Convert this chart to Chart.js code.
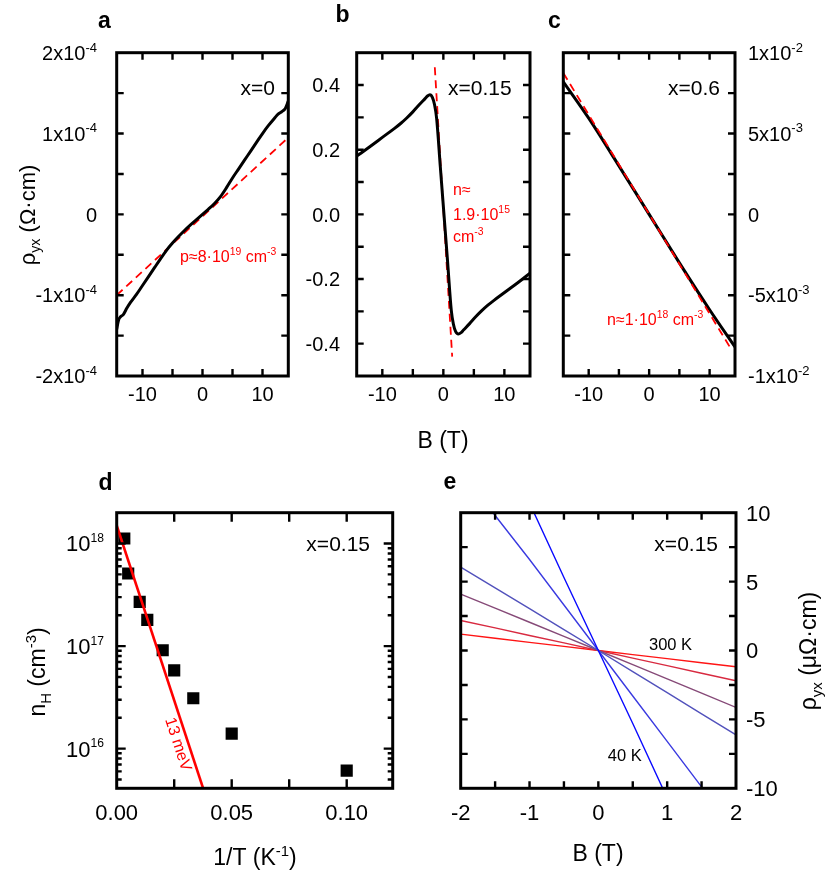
<!DOCTYPE html>
<html><head><meta charset="utf-8">
<script src="https://cdn.jsdelivr.net/npm/chart.js@4.4.1/dist/chart.umd.min.js"></script>
<style>
html,body{margin:0;padding:0;background:#fff;}
#wrap{position:relative;width:830px;height:875px;overflow:hidden;background:#fff;}
canvas{position:absolute;left:0;top:0;}
</style></head><body>
<div id="wrap">
<canvas id="pa" width="830" height="875"></canvas>
<canvas id="pb" width="830" height="875"></canvas>
<canvas id="pc" width="830" height="875"></canvas>
<canvas id="pd" width="830" height="875"></canvas>
<canvas id="pe" width="830" height="875"></canvas>
</div>
<script>
// ---------- DATA ----------
// panel a (x=0)
const aB      = [-14.3,-14.0,-13.7,-13.2,-12.6,-12,-11,-10,-9,-8,-7,-6,-5,-4,-3,-2,-1,0,1,2,3,4,5,6,7,8,9,10,11,12,12.6,13.2,13.8,14.3];
const aRho    = [-1.42e-4,-1.31e-4,-1.27e-4,-1.24e-4,-1.16e-4,-1.09e-4,-0.99e-4,-0.88e-4,-0.77e-4,-0.66e-4,-0.55e-4,-0.445e-4,-0.355e-4,-0.275e-4,-0.2e-4,-0.13e-4,-0.065e-4,0,0.065e-4,0.135e-4,0.22e-4,0.33e-4,0.45e-4,0.56e-4,0.67e-4,0.78e-4,0.89e-4,1.0e-4,1.1e-4,1.19e-4,1.24e-4,1.27e-4,1.31e-4,1.40e-4];
const aFitB   = [-14.3, 14.3];
const aFitRho = [-1.0e-4, 0.95e-4];
const aYTicks = [-2e-4,-1e-4,0,1e-4,2e-4];
const aYLabels= ["-2x10^{-4}","-1x10^{-4}","0","1x10^{-4}","2x10^{-4}"];
// panel b (x=0.15)
const bB      = [-14.2,-12,-10,-8,-7,-6,-5,-4,-3,-2.6,-2.2,-1.8,-1.45,-1.1,-0.5,0.1,0.7,1.3,1.65,2.0,2.45,2.9,3.3,4.3,5.3,6.3,7.3,8.3,10.3,12.3,14.2];
const bRho    = [0.18,0.21,0.238,0.266,0.281,0.298,0.317,0.338,0.358,0.366,0.37,0.362,0.34,0.297,0.148,0,-0.148,-0.297,-0.34,-0.362,-0.37,-0.366,-0.358,-0.338,-0.317,-0.298,-0.281,-0.266,-0.238,-0.21,-0.182];
const bFitB   = [-1.4, 1.45];
const bFitRho = [0.455, -0.44];
const bYTicks = [-0.4,-0.2,0,0.2,0.4];
const bYLabels= ["-0.4","-0.2","0.0","0.2","0.4"];
// panel c (x=0.6)
const cB      = [-14.2,-10,-5,0,5,10,14.2];
const cRho    = [0.82e-2,0.595e-2,0.30e-2,0,-0.30e-2,-0.59e-2,-0.82e-2];
const cFitB   = [-14.2, 13.5];
const cFitRho = [0.875e-2, -0.83e-2];
const cYTicks = [-1e-2,-5e-3,0,5e-3,1e-2];
const cYLabels= ["-1x10^{-2}","-5x10^{-3}","0","5x10^{-3}","1x10^{-2}"];
const topXTicks  = [-10,0,10];
const topXLabels = ["-10","0","10"];
// panel d (nH vs 1/T)
const dInvT   = [0.0033,0.005,0.01,0.0133,0.02,0.025,0.0333,0.05,0.1];
const dNH     = [1.12e18,5.1e17,2.7e17,1.8e17,9.1e16,5.8e16,3.1e16,1.4e16,6.1e15];
const dFitX   = [0, 0.04];
const dFitN   = [1.5e18, 2.8e15];
const dXTicks = [0,0.05,0.10];
const dXLabels= ["0.00","0.05","0.10"];
const dYTicks = [1e16,1e17,1e18];
const dYLabels= ["10^{16}","10^{17}","10^{18}"];
// panel e (rho_yx vs B at several T, 40 K ... 300 K)
const eB      = [-2,-1.5,-1,-0.5,0,0.5,1,1.5,2];
const eRho40  = [21.4,16.0,10.7,5.3,0,-5.3,-10.7,-16.0,-21.4];
const eRhoT2  = [13.1,9.8,6.6,3.3,0,-3.3,-6.6,-9.9,-13.1];
const eRhoT3  = [6.05,4.55,3.04,1.52,0,-1.53,-3.06,-4.6,-6.12];
const eRhoT4  = [4.09,3.07,2.05,1.03,0,-1.03,-2.06,-3.1,-4.13];
const eRhoT5  = [2.18,1.64,1.09,0.55,0,-0.55,-1.1,-1.65,-2.2];
const eRho300 = [1.19,0.89,0.59,0.3,0,-0.3,-0.59,-0.89,-1.18];
const eXTicks = [-2,-1,0,1,2];
const eXLabels= ["-2","-1","0","1","2"];
const eYTicks = [-10,-5,0,5,10];
const eYLabels= ["-10","-5","0","5","10"];

// ---------- HELPERS ----------
const FONT='"Liberation Sans", Arial, Helvetica, sans-serif';
function pts(xs,ys){return xs.map((x,i)=>({x:x,y:ys[i]}));}
function steps(min,max,step){const o=[];for(let k=Math.ceil(min/step-1e-9);k*step<=max+1e-9;k++)o.push(+(k*step).toFixed(10));return o;}
function parseRich(s){
  const segs=[];let i=0,buf='';
  while(i<s.length){const c=s[i];
    if((c==='^'||c==='_')&&s[i+1]==='{'){if(buf)segs.push({t:buf,m:'n'});buf='';const j=s.indexOf('}',i);segs.push({t:s.slice(i+2,j),m:c==='^'?'sup':'sub'});i=j+1;continue;}
    buf+=c;i++;}
  if(buf)segs.push({t:buf,m:'n'});return segs;
}
function drawRich(ctx,s,x,y,o){
  o=o||{};const size=o.size||20,bold=o.bold?'bold ':'',ss=size*(o.supScale||0.65);
  const segs=parseRich(s);let w=0;
  segs.forEach(g=>{ctx.font=bold+(g.m==='n'?size:ss)+'px '+FONT;g.w=ctx.measureText(g.t).width;w+=g.w;});
  ctx.save();ctx.translate(x,y);if(o.rot)ctx.rotate(o.rot);
  let x0=o.align==='right'?-w:o.align==='center'?-w/2:0;
  const base=o.vmid?size*0.36:0;
  ctx.fillStyle=o.color||'#000';ctx.textBaseline='alphabetic';ctx.textAlign='left';
  segs.forEach(g=>{ctx.font=bold+(g.m==='n'?size:ss)+'px '+FONT;
    const dy=g.m==='sup'?-size*0.42:g.m==='sub'?size*0.24:0;
    ctx.fillText(g.t,x0,base+dy);x0+=g.w;});
  ctx.restore();
}
function frameTicks(chart,o){
  const {ctx,chartArea:a,scales}=chart;const xs=scales.x,ys=scales.y;
  ctx.save();ctx.strokeStyle='#000';ctx.lineWidth=2.4;ctx.beginPath();
  const tk=(list,len,isX)=>list.forEach(v=>{
    if(isX){const p=xs.getPixelForValue(v);if(p<a.left+2||p>a.right-2)return;
      ctx.moveTo(p,a.bottom);ctx.lineTo(p,a.bottom-len);ctx.moveTo(p,a.top);ctx.lineTo(p,a.top+len);}
    else{const p=ys.getPixelForValue(v);if(p<a.top+2||p>a.bottom-2)return;
      ctx.moveTo(a.left,p);ctx.lineTo(a.left+len,p);ctx.moveTo(a.right,p);ctx.lineTo(a.right-len,p);}
  });
  tk(o.xMaj,o.maj,true);tk(o.xMin||[],o.min,true);tk(o.yMaj,o.maj,false);tk(o.yMin||[],o.min,false);
  ctx.stroke();
  ctx.lineWidth=3;ctx.strokeRect(a.left,a.top,a.right-a.left,a.bottom-a.top);
  ctx.restore();
}
function xLabels(chart,vals,texts,y,size){vals.forEach((v,i)=>drawRich(chart.ctx,texts[i],chart.scales.x.getPixelForValue(v),y,{size:size,align:'center',vmid:true}));}
function yLabels(chart,vals,texts,x,align,size,sup){vals.forEach((v,i)=>drawRich(chart.ctx,texts[i],x,chart.scales.y.getPixelForValue(v),{size:size,align:align,vmid:true,supScale:sup}));}

function makePanel(id,box,xOpt,yOpt,datasets,deco){
  const [L,T,R,B]=box;
  return new Chart(document.getElementById(id),{
    type:'line',
    data:{datasets:datasets},
    options:{responsive:false,animation:false,devicePixelRatio:1,
      layout:{padding:{left:L,top:T,right:830-R,bottom:875-B}},
      plugins:{legend:{display:false},tooltip:{enabled:false}},
      elements:{point:{radius:0},line:{tension:0}},
      scales:{x:Object.assign({display:false},xOpt),y:Object.assign({display:false},yOpt)}},
    plugins:[{id:'deco'+id,afterDatasetsDraw(chart){deco(chart);}}]
  });
}
const BLACK={borderColor:'#000',borderWidth:3,cubicInterpolationMode:'monotone',fill:false,borderJoinStyle:'round',borderCapStyle:'round'};
const REDDASH={borderColor:'#ff0000',borderWidth:1.8,borderDash:[8,5],fill:false};

// ---------- PANEL a ----------
makePanel('pa',[116.7,52.7,288.3,376],{type:'linear',min:-14.3,max:14.3},{type:'linear',min:-2e-4,max:2e-4},
  [Object.assign({data:pts(aB,aRho)},BLACK),Object.assign({data:pts(aFitB,aFitRho)},REDDASH)],
  ch=>{const c=ch.ctx;
    frameTicks(ch,{xMaj:steps(-15,15,5),yMaj:steps(-2e-4,2e-4,0.5e-4),maj:7,min:5});
    yLabels(ch,aYTicks,aYLabels,97,'right',20,0.65);
    xLabels(ch,topXTicks,topXLabels,394,20);
    drawRich(c,'ρ_{yx} (Ω·cm)',27,215,{size:22,align:'center',vmid:true,rot:-Math.PI/2});
    drawRich(c,'a',104.5,28,{size:23,bold:true,align:'center'});
    drawRich(c,'x=0',275,95,{size:21,align:'right'});
    drawRich(c,'p≈8·10^{19} cm^{-3}',180,262,{size:16,color:'#ff0000'});
  });
// ---------- PANEL b ----------
makePanel('pb',[356.7,52.7,530,376],{type:'linear',min:-14.2,max:14.2},{type:'linear',min:-0.5,max:0.5},
  [Object.assign({data:pts(bB,bRho)},BLACK),Object.assign({data:pts(bFitB,bFitRho)},REDDASH)],
  ch=>{const c=ch.ctx;
    frameTicks(ch,{xMaj:steps(-15,15,5),yMaj:steps(-0.5,0.5,0.1),maj:7,min:5});
    yLabels(ch,bYTicks,bYLabels,340,'right',20);
    xLabels(ch,topXTicks,topXLabels,394,20);
    drawRich(c,'B (T)',443,440,{size:23,align:'center',vmid:true});
    drawRich(c,'b',342.5,22,{size:23,bold:true,align:'center'});
    drawRich(c,'x=0.15',511.7,95,{size:21,align:'right'});
    drawRich(c,'n≈',453,195,{size:16,color:'#ff0000'});
    drawRich(c,'1.9·10^{15}',453,220,{size:16,color:'#ff0000'});
    drawRich(c,'cm^{-3}',453,242,{size:16,color:'#ff0000'});
  });
// ---------- PANEL c ----------
makePanel('pc',[563.3,52.7,735,376],{type:'linear',min:-14.2,max:14.2},{type:'linear',min:-1e-2,max:1e-2},
  [Object.assign({data:pts(cFitB,cFitRho)},REDDASH),Object.assign({data:pts(cB,cRho)},BLACK)],
  ch=>{const c=ch.ctx;
    frameTicks(ch,{xMaj:steps(-15,15,5),yMaj:steps(-1e-2,1e-2,2.5e-3),maj:7,min:5});
    yLabels(ch,cYTicks,cYLabels,748,'left',20,0.65);
    xLabels(ch,topXTicks,topXLabels,394,20);
    drawRich(c,'c',554.5,28,{size:23,bold:true,align:'center'});
    drawRich(c,'x=0.6',720,95,{size:21,align:'right'});
    drawRich(c,'n≈1·10^{18} cm^{-3}',607,325,{size:16,color:'#ff0000'});
  });
// ---------- PANEL d ----------
(function(){
  const minorY=[];[15,16,17].forEach(e=>{for(let k=2;k<=9;k++)minorY.push(k*Math.pow(10,e));});
  makePanel('pd',[116.7,512.7,392.7,788.3],{type:'linear',min:0,max:0.12},{type:'logarithmic',min:4.1e15,max:2e18},
    [{data:pts(dFitX,dFitN),borderColor:'#ff0000',borderWidth:2.6,fill:false},
     {data:pts(dInvT,dNH),showLine:false,pointStyle:'rect',pointRadius:8.6,backgroundColor:'#000',borderColor:'#000',borderWidth:0}],
    ch=>{const c=ch.ctx;
      frameTicks(ch,{xMaj:steps(0,0.12,0.025),yMaj:dYTicks,yMin:minorY,maj:9,min:5});
      yLabels(ch,dYTicks,dYLabels,104,'right',22,0.55);
      xLabels(ch,dXTicks,dXLabels,811.7,22);
      drawRich(c,'n_{H} (cm^{-3})',37,672,{size:23,align:'center',vmid:true,rot:-Math.PI/2});
      drawRich(c,'1/T (K^{-1})',255,857,{size:23,align:'center',vmid:true});
      drawRich(c,'d',105.5,490,{size:23,bold:true,align:'center'});
      drawRich(c,'x=0.15',370,551,{size:21,align:'right'});
      drawRich(c,'13 meV',179,744,{size:16,color:'#ff0000',align:'center',vmid:true,rot:72*Math.PI/180});
    });
})();
// ---------- PANEL e ----------
makePanel('pe',[460.7,512.7,736,788.3],{type:'linear',min:-2,max:2},{type:'linear',min:-10,max:10},
  [{data:pts(eB,eRho40),borderColor:'#0a0aff',borderWidth:1.4},
   {data:pts(eB,eRhoT2),borderColor:'#3a3ae0',borderWidth:1.4},
   {data:pts(eB,eRhoT3),borderColor:'#5252bc',borderWidth:1.4},
   {data:pts(eB,eRhoT4),borderColor:'#864a78',borderWidth:1.4},
   {data:pts(eB,eRhoT5),borderColor:'#d82a40',borderWidth:1.4},
   {data:pts(eB,eRho300),borderColor:'#ff1414',borderWidth:1.4}],
  ch=>{const c=ch.ctx;
    frameTicks(ch,{xMaj:steps(-2,2,0.5),yMaj:steps(-10,10,2.5),maj:7,min:5});
    yLabels(ch,eYTicks,eYLabels,746,'left',22);
    xLabels(ch,eXTicks,eXLabels,811.7,22);
    drawRich(c,'B (T)',598,853,{size:23,align:'center',vmid:true});
    drawRich(c,'ρ_{yx} (μΩ·cm)',808,651,{size:23,align:'center',vmid:true,rot:-Math.PI/2});
    drawRich(c,'e',450,489,{size:23,bold:true,align:'center'});
    drawRich(c,'x=0.15',718,551,{size:21,align:'right'});
    drawRich(c,'300 K',649,650,{size:16.5});
    drawRich(c,'40 K',607.7,761,{size:16.5});
  });
</script>
</body></html>
